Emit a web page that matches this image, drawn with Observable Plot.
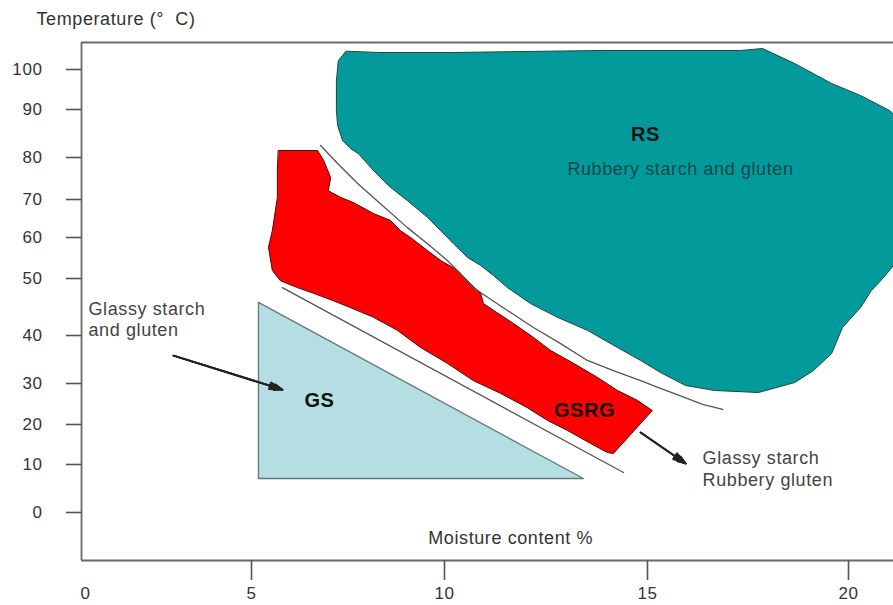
<!DOCTYPE html>
<html><head><meta charset="utf-8">
<script src="https://cdn.jsdelivr.net/npm/d3@7"></script>
<script src="https://cdn.jsdelivr.net/npm/@observablehq/plot@0.6"></script>
<style>body{margin:0;background:#fff} svg{display:block}</style>
</head><body><div id="chart"></div>
<script>
// Axis ticks (moisture %, temperature °C)
const xTicksLabeled = [0, 5, 10, 15, 20];
const xTicksMarked = [5, 10, 15, 20];
const yTicks = [0, 10, 20, 30, 40, 50, 60, 70, 80, 90, 100];
// hand-drawn axis: piecewise calibration (data values)
const xDomain = [-0.12, 0, 5, 10, 15, 20, 21.12];
const yDomain = [-10, 0, 10, 20, 30, 40, 50, 60, 70, 80, 90, 100, 106.75];

// RS region: rubbery starch and gluten [moisture %, temperature °C]
const rsOutline = [[7.44,104.5],[7.25,102.25],[7.20,97.25],[7.20,89.8],[7.23,86.7],[7.36,83.5],[7.56,81.9],[7.77,80.8],[8.16,76.9],[8.60,72.9],[9.04,69.7],[9.56,65.3],[9.90,61.8],[10.22,58.5],[10.57,55.1],[10.89,53.2],[11.21,50.7],[11.55,48.4],[12.12,45.6],[12.78,43.2],[13.52,40.9],[14.26,37.5],[14.83,34.8],[15.32,32.3],[15.95,29.5],[16.67,28.3],[17.76,27.8],[18.66,30.2],[19.13,32.7],[19.58,36.25],[19.85,41.4],[20.30,44.9],[20.57,47.9],[20.80,49.6],[21.02,51.95],[21.3,55.6],[21.3,87.7],[21.02,89.8],[20.30,93.5],[19.58,96.5],[18.66,101.5],[17.86,105.25],[17.31,104.75],[13.84,104.75],[10.15,104.25],[8.34,104.25]];
// GSRG region: glassy starch, rubbery gluten
const gsrgOutline = [[5.70,81.46],[6.71,81.46],[6.87,79.3],[7.05,75.2],[6.99,72.1],[7.31,70.5],[7.64,69.2],[8.16,66.3],[8.60,64.5],[8.86,61.8],[9.12,60],[9.56,56.8],[9.90,54.4],[10.32,52.0],[10.64,49.1],[10.89,47.4],[10.96,45.6],[11.21,44.4],[11.70,42.1],[12.19,39.6],[12.61,36.9],[13.18,34.2],[13.77,31.25],[14.26,28.3],[14.75,25.9],[15.12,23.4],[14.16,12.75],[14.01,13.0],[13.60,15.25],[13.03,18.5],[12.54,20.98],[12.04,24.1],[11.38,27.6],[10.71,30.6],[10.07,34.2],[9.38,37.5],[8.78,40.9],[8.16,43.2],[7.56,44.9],[7.12,46.1],[6.61,47.4],[6.19,48.4],[5.75,49.6],[5.54,51.95],[5.44,57.6],[5.54,61.8],[5.67,70.5],[5.67,76.9]];
// GS region: glassy starch and gluten
const gsOutline = [[5.18,45.8],[5.18,7.08],[13.42,7.08]];
// transition lines
const upperBoundary = [[6.79,82.5],[7.23,78.57],[7.75,73.8],[8.34,68.9],[9.04,62.6],[9.56,58.5],[10.07,54.4],[10.39,51.2],[10.71,48.4],[11.06,46.7],[11.55,44.4],[12.19,41.4],[12.86,38.3],[13.52,34.8],[14.16,32.7],[14.83,30.6],[15.32,28.8],[15.87,26.8],[16.37,24.9],[16.87,23.7]];
const lowerBoundary = [[5.80,48.4],[14.41,8.33]];
// annotation arrows
const arrows = [{x1:2.65,y1:35.8,x2:5.80,y2:28.5},{x1:14.83,y1:18.0,x2:15.95,y2:10.25}];
// labels
const regionCodes = [{text:"RS",x:14.95,y:84.7},{text:"GS",x:6.76,y:25.9},{text:"GSRG",x:13.45,y:23.4}];
const rsNote = [{text:"Rubbery starch and gluten",x:15.82,y:77.1}];
const sideNotes = [{text:"Glassy starch",x:0.09,y:44.6},{text:"and gluten",x:0.09,y:40.9},{text:"Glassy starch",x:16.37,y:11.5},{text:"Rubbery gluten",x:16.37,y:6.67}];
const xTitle = [{text:"Moisture content %",x:11.63,y:-5.42}];
const yTitle = ["Temperature (°\u00a0 C)"];

const P = d => d[0], Q = d => d[1];
const arrowOpts = {x1:"x1",y1:"y1",x2:"x2",y2:"y2",stroke:"#222",headLength:10};

const chart = Plot.plot({
  width: 893, height: 605,
  marginLeft: 81, marginRight: 0, marginTop: 42, marginBottom: 45,
  style: "font-family: 'Liberation Sans', Arial, sans-serif; background: #fff; letter-spacing: 0.6px;",
  x: {type: "linear", domain: xDomain, range: [81, 85, 251, 444, 647, 848, 893]},
  y: {type: "linear", domain: yDomain, range: [560, 512, 464, 424, 383, 335, 278, 237, 199, 157, 109, 69, 42]},
  marks: [
    Plot.line(rsOutline, {x: P, y: Q, curve: "linear-closed", fill: "#039a9b", stroke: "#1f4545", strokeWidth: 1}),
    Plot.line(gsrgOutline, {x: P, y: Q, curve: "linear-closed", fill: "#ff0000", stroke: "#4a0a0a", strokeWidth: 1}),
    Plot.line(gsOutline, {x: P, y: Q, curve: "linear-closed", fill: "#b4dee2", stroke: "#66777a", strokeWidth: 1.3}),
    Plot.line(upperBoundary, {x: P, y: Q, stroke: "#555", strokeWidth: 1.3}),
    Plot.line(lowerBoundary, {x: P, y: Q, stroke: "#555", strokeWidth: 1.3}),
    Plot.arrow(arrows, {...arrowOpts, strokeWidth: 1.3, headAngle: 45}),
    Plot.arrow(arrows, {...arrowOpts, strokeWidth: 2, headAngle: 30}),
    Plot.arrow(arrows, {...arrowOpts, strokeWidth: 2, headAngle: 15}),
    Plot.ruleY([yDomain[yDomain.length - 1], yDomain[0]], {stroke: "#6a6a6a", strokeWidth: 1.8}),
    Plot.ruleX([xDomain[0]], {stroke: "#6a6a6a", strokeWidth: 1.8}),
    Plot.axisY(yTicks, {anchor: "left", tickSize: 15, tickPadding: 24, fontSize: 17, stroke: "#555", strokeWidth: 1.6, fill: "#333", label: null}),
    Plot.axisX(xTicksMarked, {anchor: "bottom", tickSize: 20, tickFormat: () => "", stroke: "#555", strokeWidth: 1.6, label: null}),
    Plot.axisX(xTicksLabeled, {anchor: "bottom", tickSize: 0, tickPadding: 26, fontSize: 17, fill: "#333", label: null}),
    Plot.text(regionCodes, {x: "x", y: "y", text: "text", fontSize: 20, fontWeight: "bold", fill: "#111"}),
    Plot.text(rsNote, {x: "x", y: "y", text: "text", fontSize: 18, fill: "#12484a"}),
    Plot.text(sideNotes, {x: "x", y: "y", text: "text", fontSize: 18, fill: "#444", textAnchor: "start"}),
    Plot.text(xTitle, {x: "x", y: "y", text: "text", fontSize: 18, fill: "#333"}),
    Plot.text(yTitle, {text: d => d, frameAnchor: "top-left", dx: -45, dy: -23, lineAnchor: "middle", textAnchor: "start", fontSize: 18, fill: "#333"})
  ]
});
document.getElementById("chart").append(chart);
</script>
</body></html>
